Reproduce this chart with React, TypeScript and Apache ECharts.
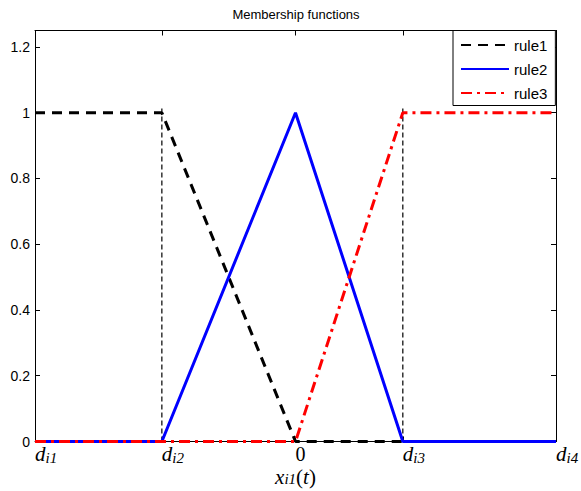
import React, { useEffect, useRef } from 'react';
import * as echarts from 'echarts';

// x positions of the breakpoints d_i1, d_i2, 0, d_i3, d_i4
const xTicks = [-1, -0.513, 0, 0.412, 1];
const xTickMain = ['d', 'd', '0', 'd', 'd'];
const xTickSub = ['i1', 'i2', '', 'i3', 'i4'];
const yTicks = [0, 0.2, 0.4, 0.6, 0.8, 1, 1.2];

const rule1X = [-1, -0.513, 0, 1];
const rule1Y = [1, 1, 0, 0];
const rule2X = [-1, -0.513, 0, 0.412, 1];
const rule2Y = [0, 0, 1, 0, 0];
const rule3X = [-1, 0, 0.412, 1];
const rule3Y = [0, 0, 1, 1];
const guideX = [-0.513, 0.412];
const guideTop = 1.02;

const zip = (xs: number[], ys: number[]) => xs.map((x, i) => [x, ys[i]]);

const serif = 'Liberation Serif';
const sans = 'Liberation Sans';

export default function App() {
  const ref = useRef<HTMLDivElement>(null);
  useEffect(() => {
    if (!ref.current) return;
    document.body.style.margin = '0';
    const chart = echarts.init(ref.current, undefined, { renderer: 'svg' });
    const tickCommon = { inside: true, length: 5, lineStyle: { color: '#000', width: 1 } };
    const guideSeries = guideX.map((gx) => ({
      type: 'line' as const,
      name: 'guide',
      data: [[gx, 0], [gx, guideTop]],
      symbol: 'none',
      lineStyle: { color: '#000', width: 1.2, type: [5, 3] as any },
      z: 1,
      silent: true,
    }));
    const subStyle = {
      fontFamily: serif,
      fontStyle: 'italic',
      fontSize: 15,
      lineHeight: 10,
      verticalAlign: 'bottom',
      color: '#000',
    };
    chart.setOption({
      animation: false,
      graphic: [
        {
          type: 'text',
          x: 296,
          y: 14,
          style: {
            text: 'Membership functions',
            fontFamily: sans,
            fontSize: 13,
            fill: '#000',
            textAlign: 'center',
            textVerticalAlign: 'middle',
          },
        },
      ],
      grid: {
        left: 35,
        right: 25,
        top: 30.5,
        bottom: 49.5,
        containLabel: false,
        outerBoundsMode: 'none',
      },
      legend: {
        data: ['rule1', 'rule2', 'rule3'],
        orient: 'vertical',
        left: 453,
        top: 30.5,
        itemWidth: 48,
        itemHeight: 14,
        itemGap: 9,
        padding: [7, 8, 5, 7],
        borderColor: '#000',
        borderWidth: 1,
        borderRadius: 0,
        backgroundColor: '#fff',
        itemStyle: { opacity: 0 },
        textStyle: { fontFamily: sans, fontSize: 15, color: '#000' },
        z: 10,
      },
      xAxis: [
        {
          type: 'value',
          min: -1,
          max: 1,
          position: 'bottom',
          axisLine: { show: true, onZero: false, lineStyle: { color: '#000', width: 1 } },
          axisTick: { ...tickCommon, customValues: xTicks },
          splitLine: { show: false },
          axisLabel: {
            customValues: xTicks,
            align: 'left',
            margin: 0,
            color: '#000',
            formatter: (v: number) => {
              const i = xTicks.findIndex((t) => Math.abs(t - v) < 1e-6);
              if (i < 0) return '';
              if (!xTickSub[i]) return '{n|' + xTickMain[i] + '}';
              return '{d|' + xTickMain[i] + '}{s|' + xTickSub[i] + '}';
            },
            rich: {
              d: { fontFamily: serif, fontStyle: 'italic', fontSize: 21, lineHeight: 24, color: '#000' },
              n: { fontFamily: serif, fontSize: 20, lineHeight: 24, color: '#000' },
              s: subStyle,
            },
          },
          name: '{x|x}{s|i1}{p|(}{t|t}{p|)}',
          nameLocation: 'middle',
          nameGap: 25,
          nameMoveOverlap: false,
          nameTextStyle: {
            rich: {
              x: { fontFamily: serif, fontStyle: 'italic', fontSize: 21, lineHeight: 20, color: '#000' },
              t: { fontFamily: serif, fontStyle: 'italic', fontSize: 21, lineHeight: 20, color: '#000' },
              p: { fontFamily: serif, fontSize: 21, lineHeight: 20, color: '#000' },
              s: subStyle,
            },
          },
        },
        {
          type: 'value',
          min: -1,
          max: 1,
          position: 'top',
          axisLine: { show: true, onZero: false, lineStyle: { color: '#000', width: 1 } },
          axisTick: { ...tickCommon, customValues: xTicks },
          axisLabel: { show: false },
          splitLine: { show: false },
        },
      ],
      yAxis: [
        {
          type: 'value',
          min: 0,
          max: 1.25,
          position: 'left',
          axisLine: { show: true, onZero: false, lineStyle: { color: '#000', width: 1 } },
          axisTick: { ...tickCommon, customValues: yTicks },
          splitLine: { show: false },
          axisLabel: {
            customValues: yTicks,
            margin: 5,
            color: '#000',
            fontFamily: sans,
            fontSize: 14,
            formatter: (v: number) => String(Math.round(v * 10) / 10),
          },
        },
        {
          type: 'value',
          min: 0,
          max: 1.25,
          position: 'right',
          axisLine: { show: true, onZero: false, lineStyle: { color: '#000', width: 1 } },
          axisTick: { ...tickCommon, customValues: yTicks },
          axisLabel: { show: false },
          splitLine: { show: false },
        },
      ],
      series: [
        ...guideSeries,
        {
          type: 'line',
          name: 'rule1',
          data: zip(rule1X, rule1Y),
          symbol: 'none',
          clip: false,
          itemStyle: { color: '#000' },
          lineStyle: { color: '#000', width: 3, type: [10, 7] as any },
          z: 2,
        },
        {
          type: 'line',
          name: 'rule2',
          data: zip(rule2X, rule2Y),
          symbol: 'none',
          clip: false,
          itemStyle: { color: '#0000ff' },
          lineStyle: { color: '#0000ff', width: 3, type: 'solid' },
          z: 3,
        },
        {
          type: 'line',
          name: 'rule3',
          data: zip(rule3X, rule3Y),
          symbol: 'none',
          clip: false,
          itemStyle: { color: '#ff0000' },
          lineStyle: { color: '#ff0000', width: 3, type: [11, 5, 3, 5] as any },
          z: 4,
        },
      ],
    });
    return () => chart.dispose();
  }, []);
  return <div ref={ref} style={{ width: 581, height: 491 }} />;
}
